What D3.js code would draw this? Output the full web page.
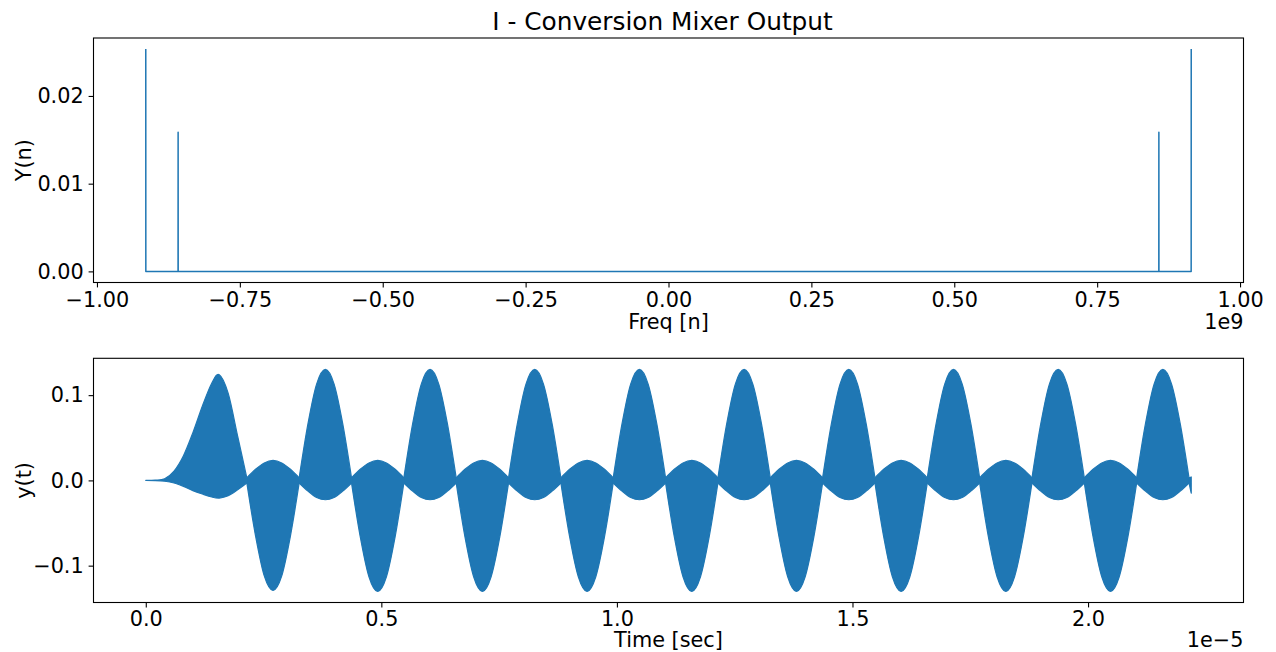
<!DOCTYPE html>
<html><head><meta charset="utf-8">
<script src="https://cdn.jsdelivr.net/npm/d3@7"></script>
<style>
body{margin:0;background:#fff}
svg text{font-family:"DejaVu Sans",sans-serif;fill:#000}
</style>
</head><body>
<svg id="c" width="1276" height="652"></svg>
<script>
// ---------- Spectrum (top) ----------
const freqE9 = [-0.9146, -0.9145, -0.8581, -0.8580, -0.8579, 0.8579, 0.8580, 0.8581, 0.9145, 0.9146];
const spectrum = [0.02534, 0, 0, 0.01586, 0, 0, 0.01586, 0, 0, 0.02534];
const freqTicks = [-1, -0.75, -0.5, -0.25, 0, 0.25, 0.5, 0.75, 1];
const freqTickLabels = ["−1.00", "−0.75", "−0.50", "−0.25", "0.00", "0.25", "0.50", "0.75", "1.00"];
const specTicks = [0, 0.01, 0.02];
const specTickLabels = ["0.00", "0.01", "0.02"];

// ---------- Time signal (bottom): envelope of the dense oscillation ----------
const timeE5 = [
  0, 0.02, 0.04, 0.06, 0.08, 0.10, 0.12, 0.14, 0.156, 0.175, 0.195,
  0.2145, 0.2330, 0.2515, 0.2701, 0.2886, 0.3071,
  0.3256, 0.3441, 0.3626, 0.3812, 0.3997, 0.4182,
  0.4367, 0.4552, 0.4737, 0.4923, 0.5108, 0.5293,
  0.5478, 0.5663, 0.5848, 0.6034, 0.6219, 0.6404,
  0.6589, 0.6774, 0.6959, 0.7145, 0.7330, 0.7515,
  0.7700, 0.7885, 0.8070, 0.8256, 0.8441, 0.8626,
  0.8811, 0.8996, 0.9181, 0.9367, 0.9552, 0.9737,
  0.9922, 1.0107, 1.0292, 1.0478, 1.0663, 1.0848,
  1.1033, 1.1218, 1.1403, 1.1589, 1.1774, 1.1959,
  1.2144, 1.2329, 1.2514, 1.2700, 1.2885, 1.3070,
  1.3255, 1.3440, 1.3625, 1.3811, 1.3996, 1.4181,
  1.4366, 1.4551, 1.4736, 1.4922, 1.5107, 1.5292,
  1.5477, 1.5662, 1.5847, 1.6033, 1.6218, 1.6403,
  1.6588, 1.6773, 1.6958, 1.7144, 1.7329, 1.7514,
  1.7699, 1.7884, 1.8069, 1.8255, 1.8440, 1.8625,
  1.8810, 1.8995, 1.9180, 1.9366, 1.9551, 1.9736,
  1.9921, 2.0106, 2.0291, 2.0477, 2.0662, 2.0847,
  2.1032, 2.1217, 2.1402, 2.1588, 2.1773, 2.1958,
  2.2143, 2.2190
];
const upperEnv = [
  0, 0.0003, 0.002, 0.011, 0.029, 0.056, 0.087, 0.114, 0.124, 0.102, 0.052,
  0.003, 0.013, 0.0205, 0.0234, 0.0205, 0.013,
  0.003, 0.066, 0.113, 0.1302, 0.113, 0.066,
  0.003, 0.013, 0.0205, 0.0234, 0.0205, 0.013,
  0.003, 0.066, 0.113, 0.1302, 0.113, 0.066,
  0.003, 0.013, 0.0205, 0.0234, 0.0205, 0.013,
  0.003, 0.066, 0.113, 0.1302, 0.113, 0.066,
  0.003, 0.013, 0.0205, 0.0234, 0.0205, 0.013,
  0.003, 0.066, 0.113, 0.1302, 0.113, 0.066,
  0.003, 0.013, 0.0205, 0.0234, 0.0205, 0.013,
  0.003, 0.066, 0.113, 0.1302, 0.113, 0.066,
  0.003, 0.013, 0.0205, 0.0234, 0.0205, 0.013,
  0.003, 0.066, 0.113, 0.1302, 0.113, 0.066,
  0.003, 0.013, 0.0205, 0.0234, 0.0205, 0.013,
  0.003, 0.066, 0.113, 0.1302, 0.113, 0.066,
  0.003, 0.013, 0.0205, 0.0234, 0.0205, 0.013,
  0.003, 0.066, 0.113, 0.1302, 0.113, 0.066,
  0.003, 0.013, 0.0205, 0.0234, 0.0205, 0.013,
  0.003, 0.066, 0.113, 0.1302, 0.113, 0.066,
  0.003, 0.004
];
const lowerEnv = [
  0, -0.0002, -0.001, -0.003, -0.007, -0.012, -0.016, -0.0195, -0.0207, -0.018, -0.011,
  -0.003, -0.065, -0.112, -0.129, -0.112, -0.065,
  -0.003, -0.0125, -0.020, -0.0227, -0.020, -0.0125,
  -0.003, -0.066, -0.113, -0.1302, -0.113, -0.066,
  -0.003, -0.0125, -0.020, -0.0227, -0.020, -0.0125,
  -0.003, -0.066, -0.113, -0.1302, -0.113, -0.066,
  -0.003, -0.0125, -0.020, -0.0227, -0.020, -0.0125,
  -0.003, -0.066, -0.113, -0.1302, -0.113, -0.066,
  -0.003, -0.0125, -0.020, -0.0227, -0.020, -0.0125,
  -0.003, -0.066, -0.113, -0.1302, -0.113, -0.066,
  -0.003, -0.0125, -0.020, -0.0227, -0.020, -0.0125,
  -0.003, -0.066, -0.113, -0.1302, -0.113, -0.066,
  -0.003, -0.0125, -0.020, -0.0227, -0.020, -0.0125,
  -0.003, -0.066, -0.113, -0.1302, -0.113, -0.066,
  -0.003, -0.0125, -0.020, -0.0227, -0.020, -0.0125,
  -0.003, -0.066, -0.113, -0.1302, -0.113, -0.066,
  -0.003, -0.0125, -0.020, -0.0227, -0.020, -0.0125,
  -0.003, -0.066, -0.113, -0.1302, -0.113, -0.066,
  -0.003, -0.0125, -0.020, -0.0227, -0.020, -0.0125,
  -0.003, -0.015
];
const timeTicks = [0, 0.5, 1, 1.5, 2];
const timeTickLabels = ["0.0", "0.5", "1.0", "1.5", "2.0"];
const ampTicks = [-0.1, 0, 0.1];
const ampTickLabels = ["−0.1", "0.0", "0.1"];

// ---------- Drawing ----------
const COLOR = "#1f77b4";
const FS = 20.8;
const svg = d3.select("#c");

function padded(ext) { const r = ext[1] - ext[0]; return [ext[0] - 0.05 * r, ext[1] + 0.05 * r]; }

function panel(box, xDom, yDom, xt, xl, yt, yl, xlabel, ylabel, offsetText) {
  const x = d3.scaleLinear().domain(xDom).range([box.l, box.r]);
  const y = d3.scaleLinear().domain(yDom).range([box.b, box.t]);
  const gx = svg.append("g").attr("transform", `translate(0,${box.b})`)
    .call(d3.axisBottom(x).tickValues(xt).tickFormat((d, i) => xl[i]).tickSize(4.9).tickPadding(box.pad));
  const gy = svg.append("g").attr("transform", `translate(${box.l},0)`)
    .call(d3.axisLeft(y).tickValues(yt).tickFormat((d, i) => yl[i]).tickSize(4.9).tickPadding(4.9));
  [gx, gy].forEach(g => {
    g.select(".domain").remove();
    g.selectAll(".tick line").attr("stroke", "#000").attr("stroke-width", 1.1);
    g.selectAll(".tick text").attr("font-size", FS).attr("font-family", "DejaVu Sans").attr("fill", "#000");
  });
  svg.append("text").attr("x", (box.l + box.r) / 2).attr("y", box.lab)
    .attr("text-anchor", "middle").attr("font-size", FS).text(xlabel);
  svg.append("text").attr("transform", `translate(31.3,${(box.t + box.b) / 2}) rotate(-90)`)
    .attr("text-anchor", "middle").attr("font-size", FS).text(ylabel);
  svg.append("text").attr("x", box.r).attr("y", box.lab)
    .attr("text-anchor", "end").attr("font-size", FS).text(offsetText);
  return {x, y};
}

function frame(box) {
  svg.append("rect").attr("x", box.l).attr("y", box.t).attr("width", box.r - box.l).attr("height", box.b - box.t)
    .attr("fill", "none").attr("stroke", "#000").attr("stroke-width", 1.1);
}

// top panel
const boxA = {l: 93.5, r: 1243.5, t: 38, b: 282.5, lab: 328.6, pad: 4.6};
const A = panel(boxA, padded(d3.extent(freqE9)), padded(d3.extent(spectrum)),
  freqTicks, freqTickLabels, specTicks, specTickLabels, "Freq [n]", "Y(n)", "1e9");
const specData = freqE9.map((f, i) => [f, spectrum[i]]);
svg.append("path").datum(specData)
  .attr("d", d3.line().x(d => A.x(d[0])).y(d => A.y(d[1])))
  .attr("fill", "none").attr("stroke", COLOR).attr("stroke-width", 1.5).attr("stroke-linejoin", "round");
frame(boxA);

// bottom panel
const boxB = {l: 93.5, r: 1243.5, t: 358.3, b: 602.5, lab: 646.5, pad: 3.4};
const B = panel(boxB, padded(d3.extent(timeE5)), padded([d3.min(lowerEnv), d3.max(upperEnv)]),
  timeTicks, timeTickLabels, ampTicks, ampTickLabels, "Time [sec]", "y(t)", "1e−5");
const envData = timeE5.map((t, i) => ({t, lo: lowerEnv[i], hi: upperEnv[i]}));
// envelope has cusps where the upper envelope has a local minimum (beat nodes): split the smooth curve there
const breaks = [0];
for (let i = 1; i < upperEnv.length - 1; i++) {
  if (upperEnv[i] < upperEnv[i - 1] && upperEnv[i] < upperEnv[i + 1]) breaks.push(i);
}
breaks.push(upperEnv.length - 1);
const areaGen = d3.area().x(d => B.x(d.t)).y0(d => B.y(d.lo)).y1(d => B.y(d.hi)).curve(d3.curveCatmullRom.alpha(0));
const segs = d3.pairs(breaks).map(([a, b]) => envData.slice(a, b + 1));
svg.append("g").selectAll("path").data(segs).join("path")
  .attr("d", areaGen)
  .attr("fill", COLOR).attr("stroke", COLOR).attr("stroke-width", 1.2).attr("stroke-linejoin", "round");
frame(boxB);

// title
svg.append("text").attr("x", (boxA.l + boxA.r) / 2 - 6).attr("y", 30)
  .attr("text-anchor", "middle").attr("font-size", 24.8).text("I - Conversion Mixer Output");
</script>
</body></html>
